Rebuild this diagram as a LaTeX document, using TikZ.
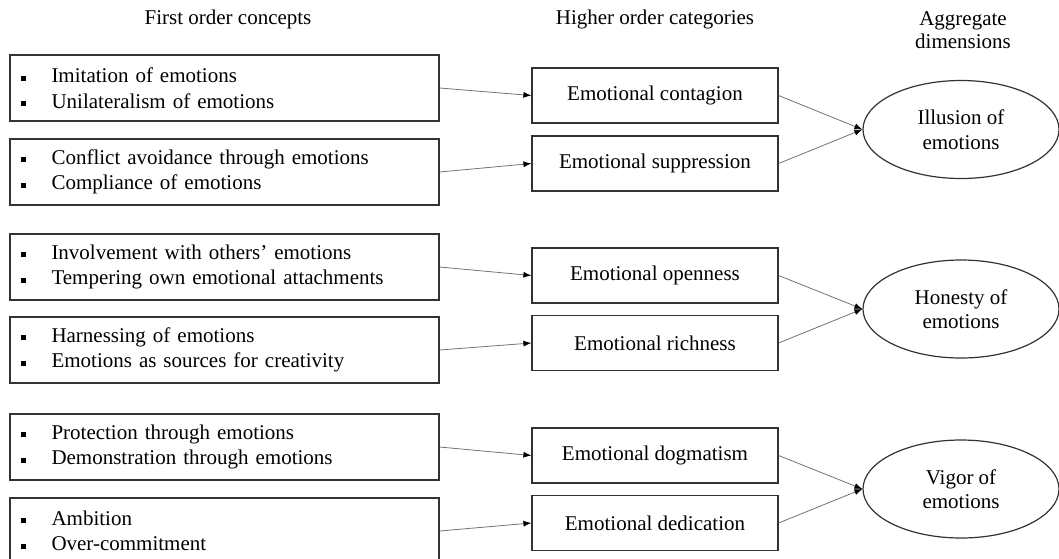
\documentclass[tikz,border=0pt]{standalone}
\usepackage{fontspec}
\setmainfont{Liberation Serif}
\usetikzlibrary{shapes.geometric, arrows.meta}
\newcommand{\sqb}{\rule[2pt]{5pt}{5pt}\hspace{26pt}}

\begin{document}
\begin{tikzpicture}[x=1pt, y=-1pt, >={Latex[length=8pt,width=6pt,color=black]},
  concept/.style={draw=black!80, line width=1.2pt, text width=408pt, inner xsep=10.5pt,
    inner ysep=0pt, minimum height=66pt, align=left, font=\fontsize{21}{25.5}\selectfont},
  category/.style={draw=black!80, line width=1.2pt, minimum width=246pt, minimum height=55pt,
    inner sep=0pt, font=\fontsize{21}{24}\selectfont},
  dimension/.style={draw=black!80, line width=1.2pt, ellipse, minimum width=196pt,
    minimum height=98pt, inner sep=0pt, align=center, font=\fontsize{21}{24.5}\selectfont},
  head/.style={font=\fontsize{21}{23}\selectfont, align=center},
  link/.style={->, draw=black!55, line width=0.8pt}]
  \useasboundingbox (0,0) rectangle (1059,558);
  \clip (0,0) rectangle (1059,558);
  % Column headings
  \node[head, anchor=base] (hfirst) at (228,24) {First order concepts};
  \node[head, anchor=base] (hhigher) at (655,24) {Higher order categories};
  \node[head] (haggr) at (963,30) {Aggregate\\dimensions};
  % First order concepts
  \node[concept] (imit) at (224.5,88) {\sqb Imitation of emotions\\\sqb Unilateralism of emotions};
  \node[concept] (confl) at (224.5,172) {\sqb Conflict avoidance through emotions\\\sqb Compliance of emotions};
  \node[concept] (invol) at (224.5,267) {\sqb Involvement with others' emotions\\\sqb Tempering own emotional attachments};
  \node[concept] (harn) at (224.5,350) {\sqb Harnessing of emotions\\\sqb Emotions as sources for creativity};
  \node[concept] (prot) at (224.5,447) {\sqb Protection through emotions\\\sqb Demonstration through emotions};
  \node[concept] (ambit) at (224.5,531) {\sqb Ambition\\\sqb Over-commitment};
  % Higher order categories
  \node[category] (contag) at (655,95.5) {Emotional contagion};
  \node[category] (suppr) at (655,163.5) {Emotional suppression};
  \node[category] (openn) at (655,275.5) {Emotional openness};
  \node[category] (richn) at (655,343) {Emotional richness};
  \node[category] (dogma) at (655,455.5) {Emotional dogmatism};
  \node[category] (dedic) at (655,523) {Emotional dedication};
  % Aggregate dimensions
  \node[dimension] (illus) at (961,129.5) {Illusion of\\emotions};
  \node[dimension] (hones) at (961,309) {Honesty of\\emotions};
  \node[dimension] (vigor) at (961,489) {Vigor of\\emotions};
  % Connectors
  \foreach \a/\b in {imit/contag, confl/suppr, invol/openn, harn/richn, prot/dogma, ambit/dedic,
                     contag/illus, suppr/illus, openn/hones, richn/hones, dogma/vigor, dedic/vigor}
    \draw[link] (\a.east) -- (\b.west);
\end{tikzpicture}
\end{document}
